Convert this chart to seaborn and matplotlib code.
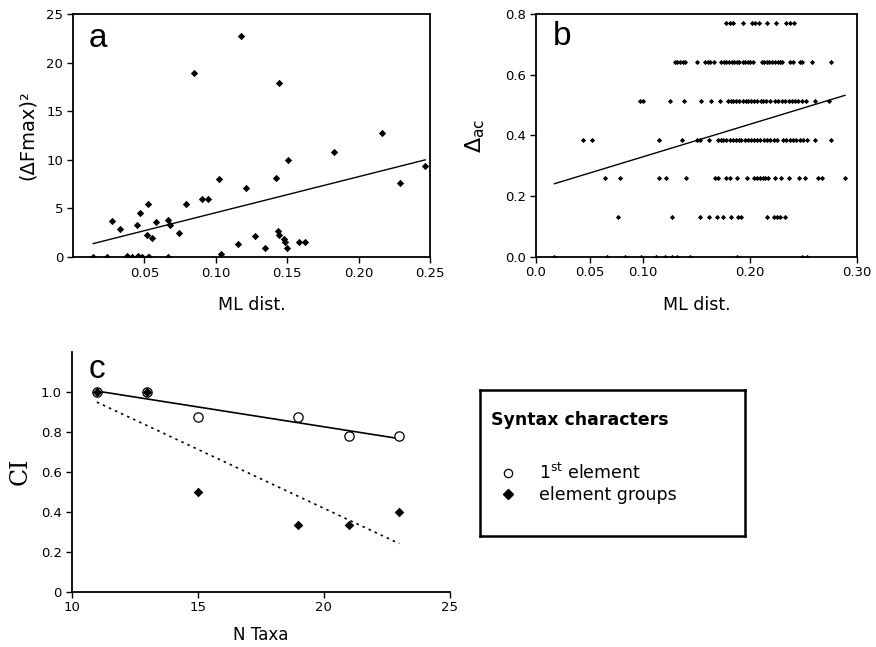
import matplotlib
matplotlib.use("Agg")
import numpy as np
import pandas as pd
import matplotlib.pyplot as plt
import seaborn as sns
from matplotlib.lines import Line2D

# ---- panel a: (dFmax)^2 vs ML distance ----
a_dist = [0.014, 0.024, 0.027, 0.033, 0.0375, 0.041, 0.045, 0.0455, 0.0467, 0.0486,
          0.0516, 0.0528, 0.0526, 0.0535, 0.0556, 0.058, 0.0667, 0.0667, 0.0678, 0.0744,
          0.0793, 0.085, 0.0904, 0.0946, 0.102, 0.1037, 0.1157, 0.1178, 0.121, 0.1275,
          0.1347, 0.142, 0.144, 0.1434, 0.1441, 0.1477, 0.1488, 0.150, 0.1509, 0.158,
          0.1627, 0.183, 0.2165, 0.229, 0.2468]
a_dfmax = [0.05, 0.05, 3.67, 2.88, 0.1, 0.0, 3.26, 0.1, 4.5, 0.0,
           2.3, 5.45, 0.0, 0.0, 1.95, 3.63, 3.77, 0.0, 3.26, 2.5,
           5.45, 18.9, 5.93, 5.93, 8.02, 0.28, 1.3, 22.7, 7.1, 2.13,
           0.9, 8.16, 17.93, 2.7, 2.3, 1.82, 1.58, 0.93, 9.98, 1.51,
           1.54, 10.77, 12.8, 7.65, 9.36]

# ---- panel b: delta_ac vs ML distance, one list per delta level ----
b_levels = [0.0, 0.13, 0.258, 0.385, 0.514, 0.641, 0.769]
b_x_0 = [0.017, 0.0667, 0.083, 0.098, 0.112, 0.1206, 0.127, 0.132, 0.144, 0.188, 0.249, 0.253]
b_x_1 = [0.077, 0.127, 0.153, 0.162, 0.169, 0.175, 0.182, 0.189, 0.192, 0.216, 0.222, 0.225,
         0.228, 0.233]
b_x_2 = [0.0645, 0.0785, 0.115, 0.1215, 0.140, 0.167, 0.170, 0.178, 0.181, 0.1875, 0.197,
         0.204, 0.207, 0.209, 0.212, 0.214, 0.217, 0.223, 0.229, 0.236, 0.246, 0.251, 0.264,
         0.267, 0.289]
b_x_3 = [0.0436, 0.052, 0.115, 0.136, 0.150, 0.153, 0.162, 0.170, 0.173, 0.175, 0.178,
         0.181, 0.184, 0.187, 0.190, 0.192, 0.195, 0.198, 0.201, 0.204, 0.207, 0.209, 0.213,
         0.216, 0.219, 0.222, 0.225, 0.231, 0.234, 0.237, 0.240, 0.243, 0.247, 0.250, 0.253,
         0.261, 0.276]
b_x_4 = [0.097, 0.100, 0.125, 0.138, 0.154, 0.164, 0.172, 0.179, 0.182, 0.184, 0.187,
         0.190, 0.193, 0.196, 0.198, 0.201, 0.204, 0.207, 0.210, 0.212, 0.215, 0.219, 0.223,
         0.226, 0.230, 0.233, 0.236, 0.239, 0.242, 0.245, 0.249, 0.252, 0.261, 0.274]
b_x_5 = [0.130, 0.132, 0.135, 0.137, 0.139, 0.150, 0.158, 0.161, 0.163, 0.166, 0.173,
         0.176, 0.178, 0.180, 0.183, 0.185, 0.188, 0.190, 0.193, 0.195, 0.198, 0.200, 0.203,
         0.211, 0.213, 0.216, 0.218, 0.221, 0.223, 0.226, 0.228, 0.230, 0.237, 0.240, 0.247,
         0.249, 0.258, 0.276]
b_x_6 = [0.178, 0.181, 0.184, 0.193, 0.202, 0.205, 0.208, 0.216, 0.224, 0.234, 0.237, 0.241]

# ---- panel c: CI vs number of taxa ----
c_taxa = [11, 13, 15, 19, 21, 23]
c_ci_first = [1.0, 1.0, 0.875, 0.875, 0.778, 0.778]
c_ci_groups = [1.0, 1.0, 0.5, 0.333, 0.333, 0.4]

sns.set_style("white")
plt.rcParams["font.family"] = ["DejaVu Sans"]
plt.rcParams["mathtext.fontset"] = "dejavusans"
for key in ("text.color", "axes.labelcolor", "xtick.color", "ytick.color"):
    plt.rcParams[key] = "black"

df_a = pd.DataFrame({"dist": a_dist, "dfmax": a_dfmax})
b_rows = [b_x_0, b_x_1, b_x_2, b_x_3, b_x_4, b_x_5, b_x_6]
df_b = pd.DataFrame({
    "dist": [x for row in b_rows for x in row],
    "dac": [lvl for lvl, row in zip(b_levels, b_rows) for _ in row],
})
df_c = pd.DataFrame({"taxa": c_taxa, "first": c_ci_first, "groups": c_ci_groups})

fig = plt.figure(figsize=(8.76, 6.47), dpi=100)
ax_a = fig.add_axes([0.0833, 0.6028, 0.4076, 0.3756])
ax_b = fig.add_axes([0.6119, 0.6032, 0.3664, 0.3752])
ax_c = fig.add_axes([0.0818, 0.0855, 0.4315, 0.3709])
ax_leg = fig.add_axes([0.548, 0.1716, 0.3025, 0.2254])

tick_font = 9.5
label_font = 12.5

# panel a
sns.scatterplot(data=df_a, x="dist", y="dfmax", marker="D", s=14, color="black",
                linewidth=0, ax=ax_a)
sns.regplot(data=df_a, x="dist", y="dfmax", scatter=False, ci=None, color="black",
            line_kws={"lw": 1.0}, ax=ax_a)
ax_a.set_xlim(0, 0.25)
ax_a.set_ylim(0, 25)
ax_a.set_xticks([0.05, 0.10, 0.15, 0.20, 0.25])
ax_a.set_xticklabels(["0.05", "0.10", "0.15", "0.20", "0.25"])
ax_a.set_yticks([0, 5, 10, 15, 20, 25])
ax_a.set_xlabel("ML dist.", fontsize=label_font)
ax_a.set_ylabel("(ΔFmax)²", fontsize=14)
ax_a.xaxis.set_label_coords(0.5, -0.16)
ax_a.yaxis.set_label_coords(-0.10, 0.5)
ax_a.text(0.07, 0.90, "a", transform=ax_a.transAxes, fontsize=24,
          ha="center", va="center", family="Liberation Sans")

# panel b
sns.scatterplot(data=df_b, x="dist", y="dac", marker="D", s=7, color="black",
                linewidth=0, ax=ax_b)
sns.regplot(data=df_b, x="dist", y="dac", scatter=False, ci=None, color="black",
            line_kws={"lw": 1.0}, ax=ax_b)
ax_b.set_xlim(0, 0.30)
ax_b.set_ylim(0, 0.8)
ax_b.set_xticks([0.0, 0.05, 0.10, 0.20, 0.30])
ax_b.set_xticklabels(["0.0", "0.05", "0.10", "0.20", "0.30"])
ax_b.set_yticks([0.0, 0.2, 0.4, 0.6, 0.8])
ax_b.set_yticklabels(["0.0", "0.2", "0.4", "0.6", "0.8"])
ax_b.set_xlabel("ML dist.", fontsize=label_font)
ax_b.set_ylabel(r"$\Delta_{\mathrm{ac}}$", fontsize=16)
ax_b.xaxis.set_label_coords(0.5, -0.16)
ax_b.yaxis.set_label_coords(-0.153, 0.5)
ax_b.text(0.08, 0.906, "b", transform=ax_b.transAxes, fontsize=24,
          ha="center", va="center", family="Liberation Sans")

# panel c
sns.regplot(data=df_c, x="taxa", y="first", scatter=False, ci=None, color="black",
            line_kws={"lw": 1.2}, ax=ax_c)
sns.regplot(data=df_c, x="taxa", y="groups", scatter=False, ci=None, color="black",
            line_kws={"lw": 1.2, "ls": (0, (1.5, 2.5))}, ax=ax_c)
sns.scatterplot(data=df_c, x="taxa", y="first", marker="o", s=45, facecolor="white",
                edgecolor="black", linewidth=0.9, ax=ax_c, zorder=3)
sns.scatterplot(data=df_c, x="taxa", y="groups", marker="D", s=24, color="black",
                linewidth=0, ax=ax_c, zorder=4)
ax_c.set_xlim(10, 25)
ax_c.set_ylim(0, 1.2)
ax_c.set_xticks([10, 15, 20, 25])
ax_c.set_yticks([0, 0.2, 0.4, 0.6, 0.8, 1.0])
ax_c.set_yticklabels(["0", "0.2", "0.4", "0.6", "0.8", "1.0"])
ax_c.set_xlabel("N Taxa", fontsize=12)
ax_c.set_ylabel("CI", fontsize=17, family="DejaVu Serif")
ax_c.xaxis.set_label_coords(0.5, -0.145)
ax_c.yaxis.set_label_coords(-0.105, 0.5)
ax_c.text(0.067, 0.924, "c", transform=ax_c.transAxes, fontsize=24,
          ha="center", va="center", family="Liberation Sans")
ax_c.spines["top"].set_visible(False)
ax_c.spines["right"].set_visible(False)

for ax in (ax_a, ax_b, ax_c):
    ax.tick_params(axis="both", labelsize=tick_font, length=4, width=1,
                   direction="out", color="black", left=True, bottom=True, pad=3)
    for sp in ax.spines.values():
        sp.set_color("black")
        sp.set_linewidth(1.3)

# legend box
ax_leg.set_xticks([])
ax_leg.set_yticks([])
for sp in ax_leg.spines.values():
    sp.set_color("black")
    sp.set_linewidth(1.8)
ax_leg.text(0.04, 0.795, "Syntax characters", transform=ax_leg.transAxes,
            fontsize=12.5, fontweight="bold", ha="left", va="center")
handles = [
    Line2D([], [], marker="o", ls="none", mfc="white", mec="black", ms=6, mew=0.9),
    Line2D([], [], marker="D", ls="none", mfc="black", mec="black", ms=5),
]
ax_leg.legend(handles, [r"1$^{\mathrm{st}}$ element", "element groups"],
              loc="upper left", bbox_to_anchor=(0.04, 0.56), frameon=False,
              fontsize=12.5, handlelength=1.0, handletextpad=1.3,
              labelspacing=0.15, borderpad=0)

fig.savefig("out.png", dpi=100)
